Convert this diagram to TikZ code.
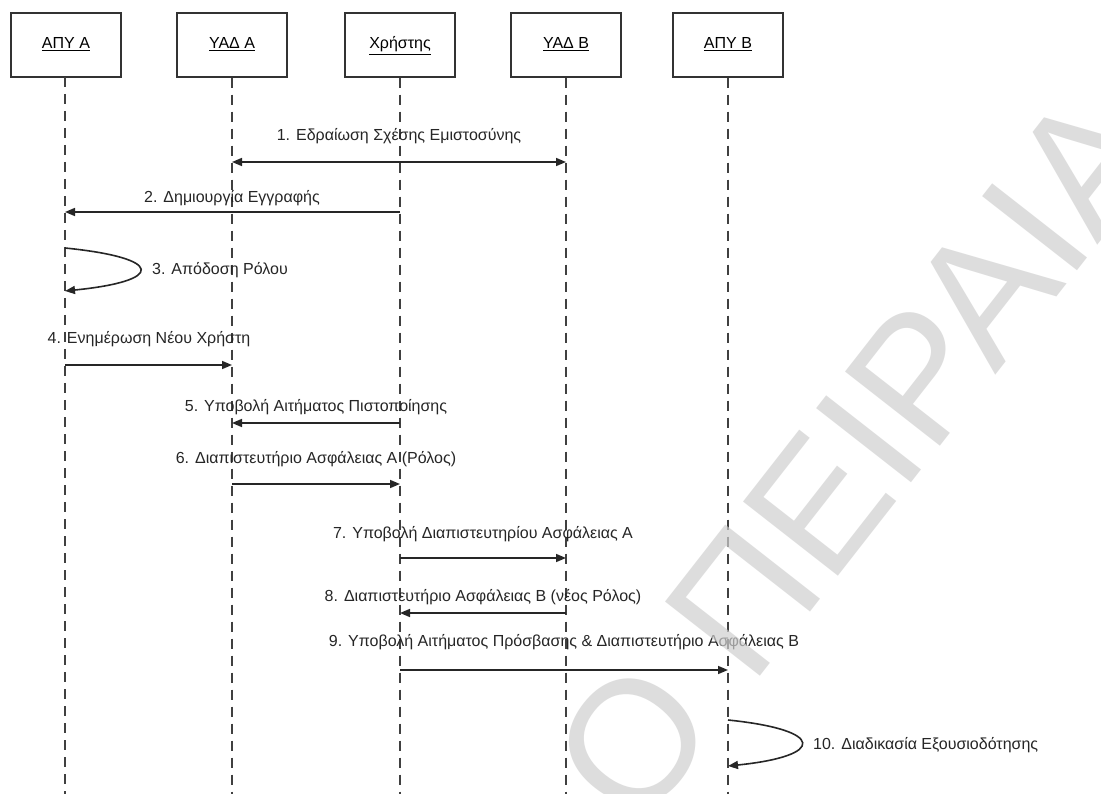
\documentclass[tikz,border=0pt]{standalone}
\usepackage{fontspec}
\setmainfont{Liberation Sans}
\newfontfamily\wmfont{Liberation Sans}
\usetikzlibrary{arrows.meta}

\tikzset{
  actor/.style={draw=black!80, line width=1.3pt, minimum width=110pt, minimum height=64pt,
                inner sep=0pt, text height=12pt, text depth=4pt,
                font=\fontsize{16}{18}\selectfont, fill=white},
  lifeline/.style={draw=black!75, line width=1.3pt, dash pattern=on 10pt off 7pt},
  msg/.style={draw=black!85, line width=1.6pt, -{Triangle[length=10pt,width=8pt]}},
  bimsg/.style={draw=black!85, line width=1.6pt, {Triangle[length=10pt,width=8pt]}-{Triangle[length=10pt,width=8pt]}},
  lbl/.style={font=\fontsize{16}{18}\selectfont, text=black!85, inner sep=0pt, anchor=base},
  lbll/.style={lbl, anchor=base west},
}

\begin{document}
\begin{tikzpicture}[x=1pt, y=-1pt]
\useasboundingbox (0,0) rectangle (1101,794);
\fill[white] (0,0) rectangle (1101,794);

% participants
\node[actor] (apya) at (66,45)  {\underline{ΑΠΥ Α}};
\node[actor] (yada) at (232,45) {\underline{ΥΑΔ Α}};
\node[actor] (user) at (400,45) {\underline{Χρήστης}};
\node[actor] (yadb) at (566,45) {\underline{ΥΑΔ Β}};
\node[actor] (apyb) at (728,45) {\underline{ΑΠΥ Β}};

% lifelines down to the bottom edge
\coordinate (apyaS) at (65,77);
\coordinate (apyaE) at (65,794);
\coordinate (yadaE) at (232,794);
\coordinate (userE) at (400,794);
\coordinate (yadbE) at (566,794);
\coordinate (apybE) at (728,794);
\draw[lifeline] (apyaS) -- (apyaE);
\draw[lifeline] (yada.south) -- (yadaE);
\draw[lifeline] (user.south) -- (userE);
\draw[lifeline] (yadb.south) -- (yadbE);
\draw[lifeline] (apyb.south) -- (apybE);

% message end points on the lifelines
\coordinate (m1a) at (232,162); \coordinate (m1b) at (566,162);
\coordinate (m2a) at (400,212); \coordinate (m2b) at (65,212);
\coordinate (m3a) at (65,248);  \coordinate (m3b) at (65,291);
\coordinate (m4a) at (65,365);  \coordinate (m4b) at (232,365);
\coordinate (m5a) at (400,423); \coordinate (m5b) at (232,423);
\coordinate (m6a) at (232,484); \coordinate (m6b) at (400,484);
\coordinate (m7a) at (400,558); \coordinate (m7b) at (566,558);
\coordinate (m8a) at (566,613); \coordinate (m8b) at (400,613);
\coordinate (m9a) at (400,670); \coordinate (m9b) at (728,670);
\coordinate (m10a) at (728,720); \coordinate (m10b) at (728,766);

% messages
\draw[bimsg] (m1a) -- (m1b);
\node[lbl] (l1) at (399,141) {1. Εδραίωση Σχέσης Εμιστοσύνης};

\draw[msg] (m2a) -- (m2b);
\node[lbl] (l2) at (232,203) {2. Δημιουργία Εγγραφής};

\draw[msg] (m3a) .. controls (165,258) and (165,281) .. (m3b);
\node[lbll] (l3) at (152,275) {3. Απόδοση Ρόλου};

\draw[msg] (m4a) -- (m4b);
\node[lbl] (l4) at (149,344) {4. Ενημέρωση Νέου Χρήστη};

\draw[msg] (m5a) -- (m5b);
\node[lbl] (l5) at (316,412) {5. Υποβολή Αιτήματος Πιστοποίησης};

\draw[msg] (m6a) -- (m6b);
\node[lbl] (l6) at (316,463) {6. Διαπιστευτήριο Ασφάλειας Α (Ρόλος)};

\draw[msg] (m7a) -- (m7b);
\node[lbl] (l7) at (483,538) {7. Υποβολή Διαπιστευτηρίου Ασφάλειας Α};

\draw[msg] (m8a) -- (m8b);
\node[lbl] (l8) at (483,601) {8. Διαπιστευτήριο Ασφάλειας Β (νέος Ρόλος)};

\draw[msg] (m9a) -- (m9b);
\node[lbl] (l9) at (564,646) {9. Υποβολή Αιτήματος Πρόσβασης \& Διαπιστευτήριο Ασφάλειας Β};

\draw[msg] (m10a) .. controls (826,730) and (826,756) .. (m10b);
\node[lbll] (l10) at (813,749) {10. Διαδικασία Εξουσιοδότησης};

% watermark
\begin{scope}
  \clip (0,0) rectangle (1101,794);
  \node[rotate=52, anchor=base west, inner sep=0pt, text=white!81!black, text opacity=0.7,
        font=\wmfont\fontsize{175}{175}\selectfont] (wm) at (638,833) {Ο ΠΕΙΡΑΙΑ};
\end{scope}
\end{tikzpicture}
\end{document}
